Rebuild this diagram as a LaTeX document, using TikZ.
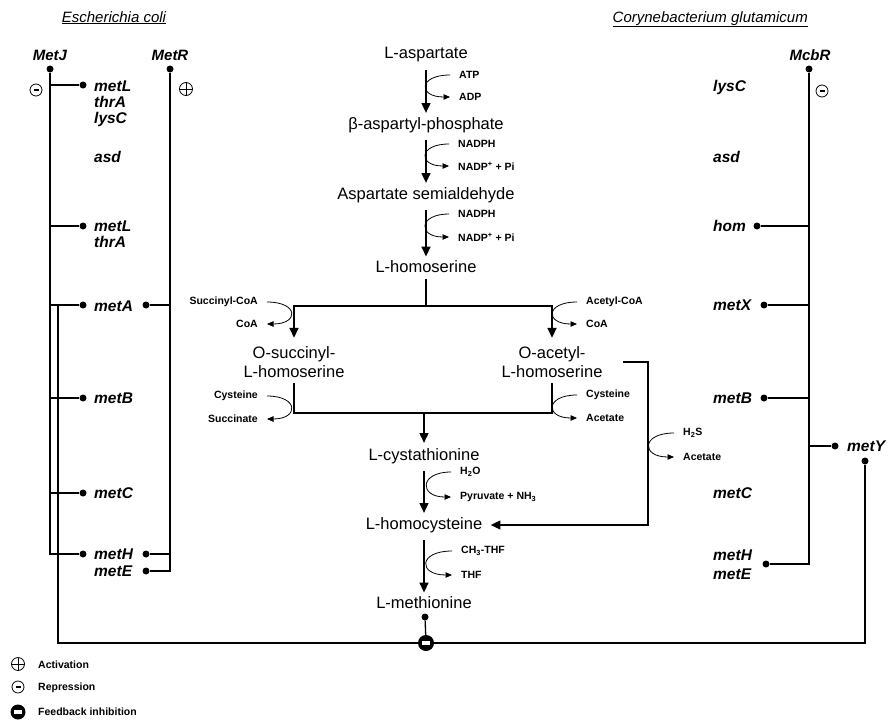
\documentclass[tikz,border=0pt]{standalone}
\usepackage{fontspec}
\setmainfont{Liberation Sans}
\usetikzlibrary{arrows.meta,positioning,calc}
\tikzset{
  metab/.style={font=\fontsize{16.5}{19.5}\selectfont, align=center, inner sep=2pt},
  cofac/.style={font=\bfseries\fontsize{10.5}{12}\selectfont, inner xsep=9pt, inner ysep=1pt},
  gene/.style={font=\bfseries\itshape\fontsize{15.5}{17}\selectfont, inner sep=0pt, anchor=base west},
  reglab/.style={font=\bfseries\itshape\fontsize{15}{17}\selectfont, inner sep=0pt, anchor=base},
  orgtitle/.style={font=\itshape\fontsize{15}{18}\selectfont, inner sep=0pt},
  legtext/.style={font=\bfseries\fontsize{10.5}{12}\selectfont, inner sep=0pt, anchor=west},
  regdot/.style={circle, fill=black, inner sep=0pt, minimum size=7pt},
  regline/.style={line width=1.3pt},
  mainline/.style={line width=2.6pt},
  mainarr/.style={-{Triangle[length=10pt,width=8.5pt]}, line width=2.6pt},
  sidearr/.style={-{Triangle[length=6.5pt,width=5.5pt]}, line width=0.8pt},
  actsym/.style={circle, draw, line width=0.8pt, minimum size=13pt, inner sep=0pt,
    path picture={\draw[line width=0.8pt] (path picture bounding box.north) -- (path picture bounding box.south)
      (path picture bounding box.west) -- (path picture bounding box.east);}},
  repsym/.style={circle, draw, line width=0.8pt, minimum size=12pt, inner sep=0pt,
    path picture={\draw[line width=1.6pt] ([xshift=-2.5pt]path picture bounding box.center) -- ([xshift=2.5pt]path picture bounding box.center);}},
  fbsym/.style={circle, fill=black, minimum size=16pt, inner sep=0pt,
    path picture={\fill[white] ([shift={(-4pt,-1.6pt)}]path picture bounding box.center) rectangle ([shift={(4pt,1.6pt)}]path picture bounding box.center);}}
}
% cofactor in/out curves, bulging left or right
\newcommand{\cofacleft}[3]{\draw[sidearr] (#1.west) .. controls +(-#3,0) and +(-#3,0) .. (#2.west);}
\newcommand{\cofacright}[3]{\draw[sidearr] (#1.east) .. controls +(#3,0) and +(#3,0) .. (#2.east);}

\begin{document}
\begin{tikzpicture}[x=1pt, y=-1pt]
\useasboundingbox (0,0) rectangle (891,720);

% organisms
\node[orgtitle, anchor=base] (ectitle) at (114,22) {\underline{Escherichia coli}};
\node[orgtitle, anchor=base east] (cgtitle) at (808,22) {\underline{Corynebacterium glutamicum}};

% pathway
\node[metab] (asp) at (426,55) {L-aspartate};
\node[metab] (bap) at (426,125) {β-aspartyl-phosphate};
\node[metab] (asa) at (426,195) {Aspartate semialdehyde};
\node[metab] (hse) at (426,267) {L-homoserine};
\node[metab] (osh) at (294,362) {O-succinyl-\\L-homoserine};
\node[metab] (oah) at (552,362) {O-acetyl-\\L-homoserine};
\node[metab] (cth) at (424,456) {L-cystathionine};
\node[metab] (hcy) at (424,525) {L-homocysteine};
\node[metab] (met) at (424,603) {L-methionine};

\draw[mainarr, shorten <=5pt, shorten >=2pt] (asp) -- (bap);
\draw[mainarr, shorten <=5pt, shorten >=2pt] (bap) -- (asa);
\draw[mainarr, shorten <=5pt, shorten >=2pt] (asa) -- (hse);
\draw[mainarr, shorten <=5pt, shorten >=2pt] (cth) -- (hcy);
\draw[mainarr, shorten <=5pt, shorten >=2pt] (hcy) -- (met);

% branch to the two acyl-homoserines and back
\coordinate (split) at (426,306);
\coordinate (join) at (424,413);
\draw[mainline, shorten <=4pt] (hse) -- (split);
\draw[mainarr, shorten >=6pt] (split) -| (osh);
\draw[mainarr, shorten >=6pt] (split) -| (oah);
\draw[mainline, shorten <=3pt, shorten >=3pt] (osh) |- (join) -| (oah);
\draw[mainarr, shorten >=3pt] (join) -- (cth);
\coordinate (sulf) at (648,445);
\draw[mainarr, shorten >=6pt] ([xshift=18pt]oah.east) -| (sulf) |- (hcy);

% cofactors
\node[cofac, anchor=west] (atp) at (450,75) {ATP};
\node[cofac, anchor=west] (adp) at (450,97) {ADP};
\node[cofac, anchor=west] (nadph1) at (449,144) {NADPH};
\node[cofac, anchor=west] (nadp1) at (449,166) {NADP\textsuperscript{+} + Pi};
\node[cofac, anchor=west] (nadph2) at (449,214) {NADPH};
\node[cofac, anchor=west] (nadp2) at (449,237) {NADP\textsuperscript{+} + Pi};
\node[cofac, anchor=east] (succoa) at (267,302) {Succinyl-CoA};
\node[cofac, anchor=east] (coa1) at (267,324) {CoA};
\node[cofac, anchor=west] (acecoa) at (577,302) {Acetyl-CoA};
\node[cofac, anchor=west] (coa2) at (577,324) {CoA};
\node[cofac, anchor=east] (cys1) at (267,396) {Cysteine};
\node[cofac, anchor=east] (succ) at (267,419) {Succinate};
\node[cofac, anchor=west] (cys2) at (577,395) {Cysteine};
\node[cofac, anchor=west] (ace1) at (577,418) {Acetate};
\node[cofac, anchor=west] (hs) at (674,433) {H\textsubscript{2}S};
\node[cofac, anchor=west] (ace2) at (674,457) {Acetate};
\node[cofac, anchor=west] (water) at (451,472) {H\textsubscript{2}O};
\node[cofac, anchor=west] (pyr) at (451,497) {Pyruvate + NH\textsubscript{3}};
\node[cofac, anchor=west] (mthf) at (452,551) {CH\textsubscript{3}-THF};
\node[cofac, anchor=west] (thf) at (452,575) {THF};

\cofacleft{atp}{adp}{32}
\cofacleft{nadph1}{nadp1}{31}
\cofacleft{nadph2}{nadp2}{31}
\cofacright{succoa}{coa1}{32}
\cofacleft{acecoa}{coa2}{32}
\cofacright{cys1}{succ}{32}
\cofacleft{cys2}{ace1}{32}
\cofacleft{hs}{ace2}{33}
\cofacleft{water}{pyr}{32}
\cofacleft{mthf}{thf}{34}

% E. coli regulators
\node[reglab] (metj) at (50,60) {MetJ};
\node[regdot] (jdot) at (50,69) {};
\node[repsym] (jrep) at (36,90) {};
\node[reglab] (metr) at (170,60) {MetR};
\node[regdot] (rdot) at (170,69) {};
\node[actsym] (ract) at (186,89) {};

\node[gene] (ecL) at (94,91) {metL};
\node[gene] (ecT) at (94,107) {thrA};
\node[gene] (ecK) at (94,123) {lysC};
\node[gene] (ecasd) at (94,162) {asd};
\node[gene] (ecL2) at (94,231) {metL};
\node[gene] (ecT2) at (94,247) {thrA};
\node[gene] (ecA) at (94,311) {metA};
\node[gene] (ecB) at (94,403) {metB};
\node[gene] (ecC) at (94,498) {metC};
\node[gene] (ecH) at (94,559) {metH};
\node[gene] (ecE) at (94,576) {metE};

\node[regdot] (jL) at (83,85) {};
\node[regdot] (jL2) at (83,226) {};
\node[regdot] (jA) at (83,305) {};
\node[regdot] (jB) at (83,398) {};
\node[regdot] (jC) at (83,493) {};
\node[regdot] (jH) at (83,554) {};
\node[regdot] (rA) at (146,305) {};
\node[regdot] (rH) at (146,554) {};
\node[regdot] (rE) at (146,571) {};

\draw[regline] (jdot) -- (jdot |- jH) -- (jH);
\foreach \g in {jL,jL2,jA,jB,jC}
  \draw[regline] (\g) -- (\g -| jdot);
\draw[regline] (rdot) |- (rE);
\foreach \g in {rA,rH}
  \draw[regline] (\g) -- (\g -| rdot);

% C. glutamicum regulator
\node[reglab] (mcbr) at (810,60) {McbR};
\node[regdot] (mdot) at (809,69) {};
\node[repsym] (mrep) at (822,91) {};

\node[gene] (cgK) at (713,91) {lysC};
\node[gene] (cgasd) at (713,162) {asd};
\node[gene] (cghom) at (713,231) {hom};
\node[gene] (cgX) at (713,310) {metX};
\node[gene] (cgB) at (713,403) {metB};
\node[gene] (cgY) at (847,451) {metY};
\node[gene] (cgC) at (713,498) {metC};
\node[gene] (cgH) at (713,560) {metH};
\node[gene] (cgE) at (713,579) {metE};

\node[regdot] (mhom) at (757,226) {};
\node[regdot] (mX) at (764,305) {};
\node[regdot] (mB) at (764,398) {};
\node[regdot] (mY) at (835,446) {};
\node[regdot] (mHE) at (766,564) {};
\node[regdot] (mY2) at (865,461) {};

\draw[regline] (mdot) |- (mHE);
\foreach \g in {mhom,mX,mB,mY}
  \draw[regline] (\g) -- (\g -| mdot);

% feedback inhibition by methionine
\node[regdot] (metdot) at (425,617) {};
\node[fbsym] (fb) at (426,643) {};
\coordinate (fbtop) at ($(jA -| jdot)+(8,0)$);
\draw[regline] (fbtop) |- (fb) -| (mY2);
\draw[regline] (metdot) -- (fb);

% legend
\node[actsym] (lgact) at (18,664) {};
\node[legtext] (lgacttxt) at (38,665) {Activation};
\node[repsym] (lgrep) at (18,687) {};
\node[legtext] (lgreptxt) at (38,688) {Repression};
\node[fbsym, minimum size=15pt] (lgfb) at (18,712) {};
\node[legtext] (lgfbtxt) at (38,712) {Feedback inhibition};
\end{tikzpicture}
\end{document}
